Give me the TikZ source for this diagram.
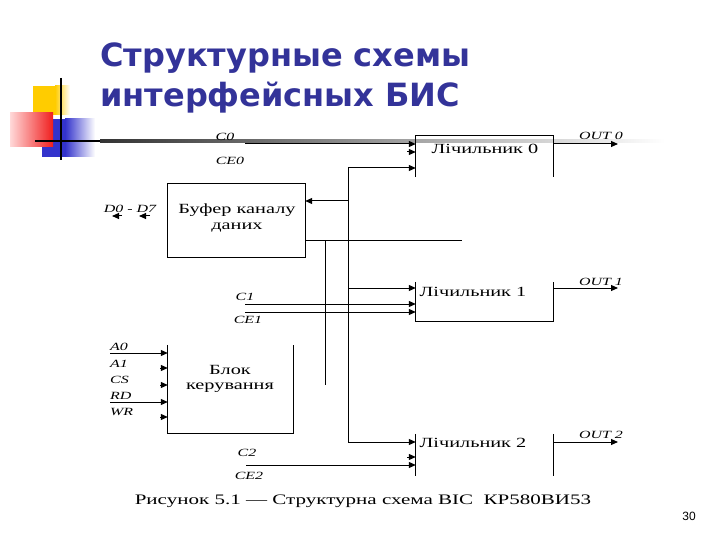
\documentclass[tikz,border=0pt]{standalone}
\usepackage{graphicx}
\usepackage{fontspec}
\setmainfont{Liberation Serif}
\newfontfamily\titlefont{DejaVu Sans}
\newfontfamily\numfont{Liberation Sans}
\usetikzlibrary{arrows.meta}
\definecolor{titleblue}{RGB}{51,51,153}
\definecolor{logoyellow}{RGB}{255,204,0}
\definecolor{logoblue}{RGB}{51,51,204}
\definecolor{logored}{RGB}{240,30,30}
\newcommand{\sx}[1]{\scalebox{1.45}[1]{#1}}
\tikzset{
  lbl/.style={font=\fontsize{11}{12}\selectfont\itshape, inner sep=0pt},
  boxtext/.style={font=\fontsize{14}{16}\selectfont, inner sep=0pt},
  blk/.style={inner sep=0pt, draw=none},
  wire/.style={line width=1pt},
  arr/.style={wire, -{Triangle[length=7pt,width=6pt]}},
  ttl/.style={font=\titlefont\bfseries\fontsize{32}{36}\selectfont, text=titleblue, inner sep=0pt, anchor=base west}
}
\begin{document}
\begin{tikzpicture}[x=1pt,y=-1pt]
\useasboundingbox (0,0) rectangle (720,540);
\fill[white] (0,0) rectangle (720,540);

% ---- logo decoration
\fill[logoyellow] (33,86) rectangle (55,115);
\shade[left color=logoyellow, right color=white] (55,86) rectangle (70,115);
\fill[logoblue] (42,119) rectangle (65,157);
\shade[left color=logoblue, right color=white] (65,119) rectangle (95,157);
\shade[left color=red!15, right color=logored] (10,113) rectangle (53,147);
\draw[line width=1.8pt] (61,78) -- (61,160);
\draw[line width=1.8pt] (35,141) -- (100,141);
\shade[left color=black!80, right color=white] (100,139.8) rectangle (665,142.4);

% ---- title
\node[ttl] (t1) at (100,67) {Структурные схемы};
\node[ttl] (t2) at (100,107) {интерфейсных БИС};

% ---- blocks (invisible frames, sides drawn below)
\node[blk, minimum width=137pt, minimum height=41pt] (cnt0) at (484.5,156.5) {};
\node[blk, minimum width=137pt, minimum height=39pt] (cnt1) at (484.5,301.5) {};
\node[blk, minimum width=137pt, minimum height=42pt] (cnt2) at (484.5,455) {};
\node[blk, minimum width=137pt, minimum height=73pt] (buf) at (236.5,220.5) {};
\node[blk, minimum width=125pt, minimum height=88pt] (ctl) at (230.5,389) {};

\draw[wire] (cnt0.south west) -- (cnt0.north west) -- (cnt0.north east) -- (cnt0.south east);
\draw[wire] (cnt1.north west) -- (cnt1.south west) -- (cnt1.south east) -- (cnt1.north east);
\draw[wire] (cnt2.north west) -- (cnt2.south west);
\draw[wire] (cnt2.north east) -- (cnt2.south east);
\draw[wire] (buf.north west) rectangle (buf.south east);
\draw[wire] (ctl.north west) -- (ctl.south west) -- (ctl.south east) -- (ctl.north east);

% ---- block texts
\node[boxtext] (t0) at (485,149) {\sx{Лічильник 0}};
\node[boxtext] (tc1) at (473,292) {\sx{Лічильник 1}};
\node[boxtext] (tc2) at (473,443) {\sx{Лічильник 2}};
\node[boxtext] (tb1) at (237,210) {\sx{Буфер каналу}};
\node[boxtext] (tb2) at (237,228) {\sx{даних}};
\node[boxtext] (tk1) at (230,370) {\sx{Блок}};
\node[boxtext] (tk2) at (230,388) {\sx{керування}};

% ---- wire end points
\coordinate (c0s) at (245,144);
\coordinate (c0e) at (cnt0.west |- c0s);
\coordinate (ce0s) at (407,152);
\coordinate (ce0e) at (cnt0.west |- ce0s);
\coordinate (bustop) at (348,168);
\coordinate (busbot) at (348,442);
\coordinate (bus0) at (cnt0.west |- bustop);
\coordinate (busb) at (348,201);
\coordinate (bufr) at (buf.east |- busb);
\coordinate (bus1s) at (348,288);
\coordinate (bus1e) at (cnt1.west |- bus1s);
\coordinate (bus2e) at (cnt2.west |- busbot);
\coordinate (ds) at (buf.east |- 0,240);
\coordinate (de) at (462,240);
\coordinate (vt) at (325,240);
\coordinate (vb) at (325,385);
\coordinate (c1s) at (245,304);
\coordinate (c1e) at (cnt1.west |- c1s);
\coordinate (ce1s) at (245,312);
\coordinate (ce1e) at (cnt1.west |- ce1s);
\coordinate (c2s) at (407,457);
\coordinate (c2e) at (cnt2.west |- c2s);
\coordinate (ce2s) at (246,465);
\coordinate (ce2e) at (cnt2.west |- ce2s);
\coordinate (o0s) at (cnt0.east |- c0s);
\coordinate (o0e) at (618,144);
\coordinate (o1s) at (cnt1.east |- bus1s);
\coordinate (o1e) at (618,288);
\coordinate (o2s) at (cnt2.east |- busbot);
\coordinate (o2e) at (618,442);
\coordinate (a0s) at (110,353);
\coordinate (a0e) at (ctl.west |- a0s);
\coordinate (a1s) at (160,368);
\coordinate (a1e) at (ctl.west |- a1s);
\coordinate (css) at (160,385);
\coordinate (cse) at (ctl.west |- css);
\coordinate (rds) at (110,402);
\coordinate (rde) at (ctl.west |- rds);
\coordinate (wrs) at (160,417);
\coordinate (wre) at (ctl.west |- wrs);
\coordinate (da1s) at (122,216);
\coordinate (da1e) at (112,216);
\coordinate (da2s) at (150,216);
\coordinate (da2e) at (139,216);

% ---- connectors
\draw[arr] (c0s) -- (c0e);
\draw[arr] (ce0s) -- (ce0e);
\draw[wire] (bustop) -- (busbot);
\draw[arr] (bustop) -- (bus0);
\draw[arr] (busb) -- (bufr);
\draw[arr] (bus1s) -- (bus1e);
\draw[arr] (busbot) -- (bus2e);
\draw[wire] (ds) -- (de);
\draw[wire] (vt) -- (vb);
\draw[arr] (c1s) -- (c1e);
\draw[arr] (ce1s) -- (ce1e);
\draw[arr] (c2s) -- (c2e);
\draw[arr] (ce2s) -- (ce2e);
\draw[arr] (o0s) -- (o0e);
\draw[arr] (o1s) -- (o1e);
\draw[arr] (o2s) -- (o2e);
\draw[arr] (a0s) -- (a0e);
\draw[arr] (a1s) -- (a1e);
\draw[arr] (css) -- (cse);
\draw[arr] (rds) -- (rde);
\draw[arr] (wrs) -- (wre);
\draw[arr] (da1s) -- (da1e);
\draw[arr] (da2s) -- (da2e);

% ---- signal labels
\node[lbl] (lc0) at (225,137) {\sx{C0}};
\node[lbl] (lce0) at (230,161) {\sx{CE0}};
\node[lbl] (lo0) at (601,136) {\sx{OUT 0}};
\node[lbl] (lo1) at (601,282) {\sx{OUT 1}};
\node[lbl] (lo2) at (601,435) {\sx{OUT 2}};
\node[lbl] (lc1) at (245,297) {\sx{C1}};
\node[lbl] (lce1) at (248,320) {\sx{CE1}};
\node[lbl] (lc2) at (247,453) {\sx{C2}};
\node[lbl] (lce2) at (249,476) {\sx{CE2}};
\node[lbl] (ld) at (130,209) {\sx{D0 - D7}};
\node[lbl, anchor=west] (la0) at (110,347) {\sx{A0}};
\node[lbl, anchor=west] (la1) at (110,364) {\sx{A1}};
\node[lbl, anchor=west] (lcs) at (110,380) {\sx{CS}};
\node[lbl, anchor=west] (lrd) at (110,396) {\sx{RD}};
\node[lbl, anchor=west] (lwr) at (110,412) {\sx{WR}};

% ---- caption and page number
\node[font=\fontsize{14.5}{16}\selectfont, inner sep=0pt] (cap) at (363,501) {\sx{Рисунок 5.1 — Структурна схема ВІС\ \ КР580ВИ53}};
\node[font=\numfont\fontsize{12}{14}\selectfont, inner sep=0pt] (pg) at (689,516) {30};
\end{tikzpicture}
\end{document}
